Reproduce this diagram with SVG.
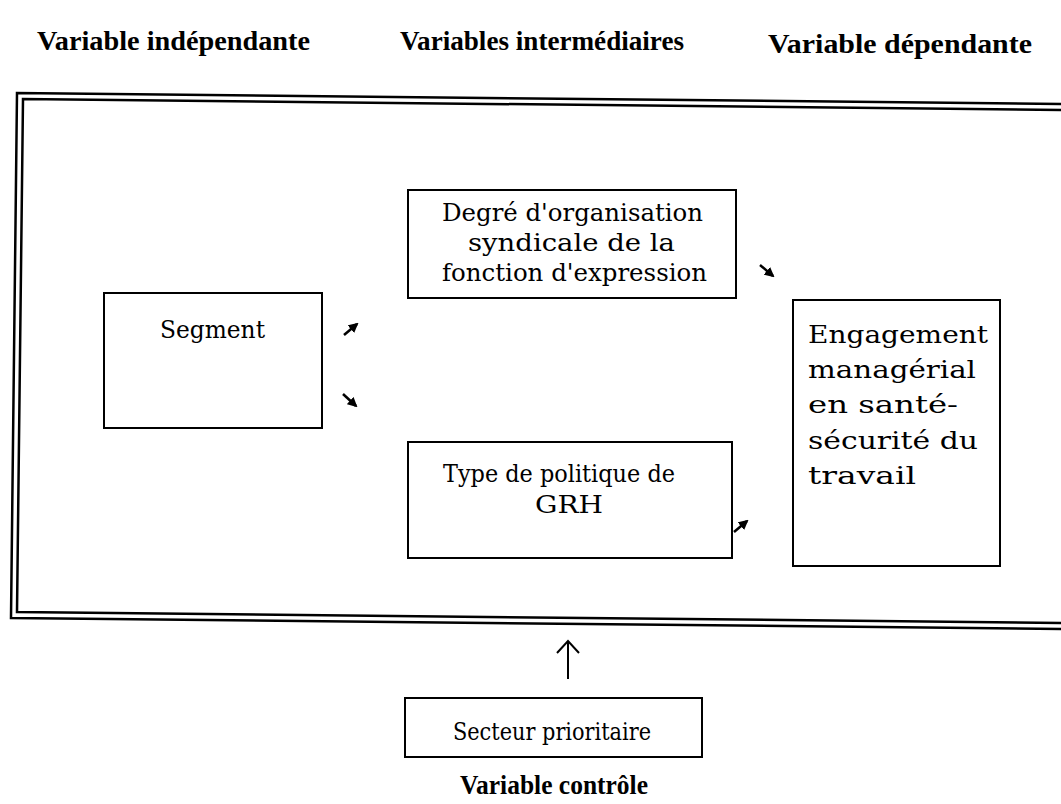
<svg xmlns="http://www.w3.org/2000/svg" width="1061" height="804" viewBox="0 0 1061 804">
<style>
.hdr{font-family:"Liberation Serif",serif;font-weight:bold;font-size:28px;fill:#000}
.t{font-family:"DejaVu Serif",serif;font-size:25px;fill:#000}
.box{fill:none;stroke:#000;stroke-width:2}
.frame{fill:none;stroke:#000;stroke-width:2.5}
.arr{stroke:#000;stroke-width:2.5;fill:none}
</style>
<defs>
<marker id="ah" viewBox="0 0 10 10" refX="8" refY="5" markerWidth="4" markerHeight="4" orient="auto">
<path d="M0,0 L10,5 L0,10 z" fill="#000"/>
</marker>
</defs>
<g id="headers">
<text class="hdr" x="37" y="50" textLength="273" lengthAdjust="spacingAndGlyphs">Variable indépendante</text>
<text class="hdr" x="400" y="50" textLength="284" lengthAdjust="spacingAndGlyphs">Variables intermédiaires</text>
<text class="hdr" x="768" y="53" textLength="264" lengthAdjust="spacingAndGlyphs">Variable dépendante</text>
</g>
<g id="frame">
<path class="frame" d="M1066,104 L17,93 L11,618 L1066,629"/>
<path class="frame" d="M1066,110 L23,99 L17,612 L1066,623"/>
</g>
<g id="segment">
<rect class="box" x="104" y="293" width="218" height="135"/>
<text class="t" x="160" y="338" textLength="105" lengthAdjust="spacingAndGlyphs">Segment</text>
</g>
<g id="degre">
<rect class="box" x="408" y="190" width="328" height="108"/>
<text class="t" x="442" y="221" textLength="261" lengthAdjust="spacingAndGlyphs">Degré d'organisation</text>
<text class="t" x="468" y="251" textLength="207" lengthAdjust="spacingAndGlyphs">syndicale de la</text>
<text class="t" x="442" y="281" textLength="265" lengthAdjust="spacingAndGlyphs">fonction d'expression</text>
</g>
<g id="type">
<rect class="box" x="408" y="442" width="324" height="116"/>
<text class="t" x="443" y="482" textLength="232" lengthAdjust="spacingAndGlyphs">Type de politique de</text>
<text class="t" x="535" y="513" textLength="68" lengthAdjust="spacingAndGlyphs">GRH</text>
</g>
<g id="engagement">
<rect class="box" x="793" y="300" width="207" height="266"/>
<text class="t" x="808" y="343" textLength="180" lengthAdjust="spacingAndGlyphs">Engagement</text>
<text class="t" x="808" y="378" textLength="168" lengthAdjust="spacingAndGlyphs">managérial</text>
<text class="t" x="808" y="413" textLength="150" lengthAdjust="spacingAndGlyphs">en santé-</text>
<text class="t" x="808" y="449" textLength="170" lengthAdjust="spacingAndGlyphs">sécurité du</text>
<text class="t" x="808" y="484" textLength="108" lengthAdjust="spacingAndGlyphs">travail</text>
</g>
<g id="secteur">
<rect class="box" x="405" y="698" width="297" height="59"/>
<text class="t" x="453" y="740" textLength="198" lengthAdjust="spacingAndGlyphs">Secteur prioritaire</text>
<text class="hdr" x="460" y="794" textLength="188" lengthAdjust="spacingAndGlyphs">Variable contrôle</text>
</g>
<g id="connectors">
<line class="arr" x1="344" y1="335" x2="357" y2="324" marker-end="url(#ah)"/>
<line class="arr" x1="343" y1="394" x2="356" y2="406" marker-end="url(#ah)"/>
<line class="arr" x1="760" y1="265" x2="773" y2="276" marker-end="url(#ah)"/>
<line class="arr" x1="734" y1="532" x2="747" y2="521" marker-end="url(#ah)"/>
<line stroke="#000" stroke-width="2" x1="568" y1="679" x2="568" y2="642"/>
<path d="M557,653 L568,641 L579,653" stroke="#000" stroke-width="2" fill="none"/>
</g>
</svg>
